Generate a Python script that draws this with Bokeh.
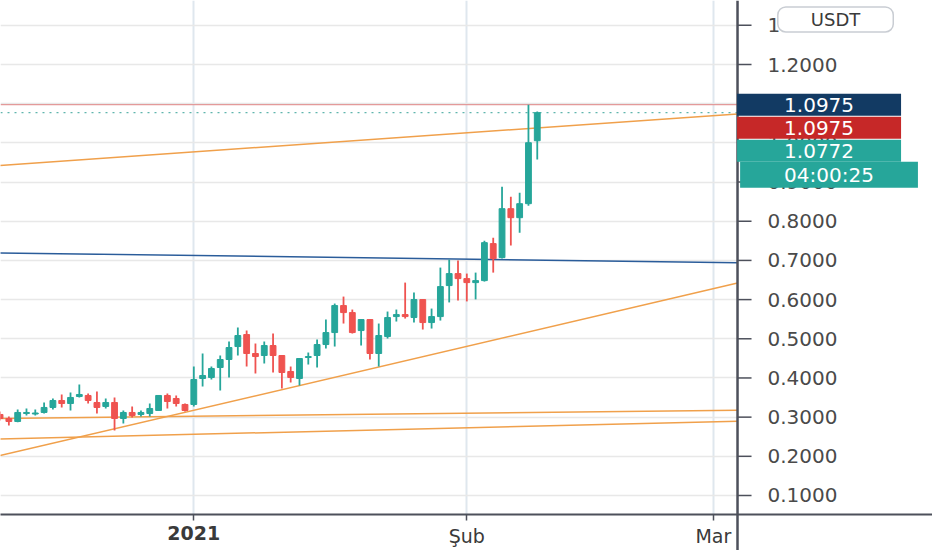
import pandas as pd
from bokeh.plotting import figure
from bokeh.models import (Range1d, FixedTicker, NumeralTickFormatter, Label,
                          ColumnDataSource, BoxAnnotation, Span, DatetimeAxis)
from bokeh.embed import file_html
from bokeh.resources import INLINE

# ---------------- data ----------------
first_day = "2020-12-10"
opens = [0.3068, 0.2966, 0.2889, 0.3093, 0.3080, 0.3119, 0.3247, 0.3425, 0.3348, 0.3527,
         0.3553, 0.3374, 0.3272, 0.3374, 0.2966, 0.3119, 0.3068, 0.3093, 0.3170, 0.3553,
         0.3476, 0.3323, 0.3323, 0.3986, 0.4012, 0.4267, 0.4471, 0.4802, 0.5108, 0.4624,
         0.4573, 0.4828, 0.4573, 0.4165, 0.3986, 0.4522, 0.4573, 0.4853, 0.5159, 0.5848,
         0.5669, 0.5210, 0.5491, 0.4624, 0.5057, 0.5567, 0.5618, 0.5542, 0.6001, 0.5414,
         0.5567, 0.6358, 0.6664, 0.6536, 0.6434, 0.6485, 0.7429, 0.7072, 0.8321, 0.8091,
         0.8448, 1.0055]
highs = [0.3144, 0.3017, 0.3195, 0.3221, 0.3195, 0.3374, 0.3476, 0.3578, 0.3629, 0.3833,
         0.3604, 0.3655, 0.3476, 0.3502, 0.3170, 0.3272, 0.3170, 0.3348, 0.3560, 0.3604,
         0.3553, 0.3348, 0.4293, 0.4624, 0.4293, 0.4573, 0.4930, 0.5287, 0.5210, 0.4879,
         0.4930, 0.5134, 0.4580, 0.4292, 0.4500, 0.4649, 0.4981, 0.5491, 0.5899, 0.6077,
         0.5746, 0.5495, 0.5495, 0.5389, 0.5695, 0.5746, 0.6434, 0.6179, 0.6005, 0.5771,
         0.6817, 0.7021, 0.6995, 0.6664, 0.6689, 0.7505, 0.7581, 0.8882, 0.8627, 0.8729,
         1.0975, 1.0800]
lows = [0.2915, 0.2787, 0.2870, 0.3042, 0.3042, 0.3093, 0.3195, 0.3247, 0.3170, 0.3502,
        0.3348, 0.3093, 0.3221, 0.2660, 0.2838, 0.2991, 0.3017, 0.3017, 0.3160, 0.3221,
        0.3272, 0.3144, 0.3272, 0.3782, 0.3961, 0.3680, 0.4012, 0.4573, 0.4292, 0.4114,
        0.4369, 0.4139, 0.3731, 0.3884, 0.3808, 0.4343, 0.4267, 0.4751, 0.4802, 0.5389,
        0.5134, 0.4828, 0.4471, 0.4292, 0.5006, 0.5440, 0.5516, 0.5414, 0.5236, 0.5261,
        0.5465, 0.5928, 0.5980, 0.5954, 0.6005, 0.6460, 0.6689, 0.7046, 0.7378, 0.7709,
        0.8397, 0.9575]
closes = [0.2966, 0.2889, 0.3119, 0.3119, 0.3106, 0.3247, 0.3425, 0.3348, 0.3502, 0.3578,
          0.3425, 0.3247, 0.3374, 0.2966, 0.3119, 0.3042, 0.3119, 0.3221, 0.3553, 0.3399,
          0.3348, 0.3170, 0.3961, 0.4063, 0.4242, 0.4471, 0.4777, 0.5083, 0.4624, 0.4547,
          0.4828, 0.4573, 0.4139, 0.4012, 0.4496, 0.4547, 0.4853, 0.5159, 0.5848, 0.5669,
          0.5159, 0.5491, 0.4624, 0.5083, 0.5542, 0.5618, 0.5567, 0.6001, 0.5414, 0.5567,
          0.6332, 0.6664, 0.6536, 0.6434, 0.6485, 0.7454, 0.7046, 0.8321, 0.8091, 0.8448,
          1.0004, 1.0772]

y_ticks = [0.1, 0.2, 0.3, 0.4, 0.5, 0.6, 0.7, 0.8, 0.9, 1.0, 1.1, 1.2, 1.3]
x_tick_dates = ["2021-01-01", "2021-02-01", "2021-03-01"]
x_tick_labels = ["2021", "Şub", "Mar"]

high_price = 1.0975
alert_price = 1.0975
last_price = 1.0772
countdown = "04:00:25"
currency = "USDT"

trend_start = ["2020-12-10"] * 5
trend_start_val = [0.9424, 0.7192, 0.2019, 0.2966, 0.2442]
trend_end_val = [1.0740, 0.6939, 0.6421, 0.3177, 0.2894]   # values at the price scale

# ---------------- styles / layout ----------------
UP = "#26a69a"
DOWN = "#ef5350"
ORANGE = "#f0a04b"
BLUE = "#2a5c9a"
trend_colors = [ORANGE, BLUE, ORANGE, ORANGE, ORANGE]
AXIS = "#4d505b"
LABEL = "#4a4a4a"
FONT = "DejaVu Sans"

DAY_MS = 86400000.0
jan1 = pd.Timestamp(x_tick_dates[0])
jan1_ms = jan1.value / 1e6
PX_DAYS = 1 / 8.806                     # days per pixel
x_lo = jan1_ms - 21.95 * DAY_MS          # left edge of the frame
x_hi = jan1_ms + 83.88 * DAY_MS          # right edge (includes price scale area)
scale_ms = jan1_ms + 61.74 * DAY_MS      # position of the price scale line


def px(n):
    return n * PX_DAYS * DAY_MS


dates = pd.date_range(first_day, periods=len(opens), freq="D")
colors = [UP if c >= o else DOWN for o, c in zip(opens, closes)]
src = ColumnDataSource(dict(
    x=dates, o=opens, h=highs, l=lows, c=closes,
    top=[max(o, c) for o, c in zip(opens, closes)],
    bot=[min(o, c) for o, c in zip(opens, closes)],
    color=colors))

p = figure(x_axis_type="datetime", y_axis_location="right",
           x_range=Range1d(x_lo, x_hi), y_range=Range1d(0.0515, 1.3634),
           frame_width=932, frame_height=514,
           min_border_left=0, min_border_top=0, min_border_right=0,
           min_border_bottom=36,
           output_backend="svg", toolbar_location=None,
           background_fill_color="white", border_fill_color="white")
p.outline_line_color = None

# grids
p.ygrid.grid_line_color = "#e8e8e8"
p.ygrid.grid_line_width = 1.5
p.xgrid.grid_line_color = "#dfe7ee"
p.xgrid.grid_line_width = 2

# white price-scale area (covers grid lines right of the scale)
p.add_layout(BoxAnnotation(left=scale_ms, fill_color="white", fill_alpha=1.0,
                           line_color=None, level="underlay"))

# trend lines
tsrc = ColumnDataSource(dict(
    x0=pd.to_datetime(trend_start), x1=[scale_ms] * len(trend_start_val),
    y0=trend_start_val, y1=trend_end_val, color=trend_colors))
p.segment(x0="x0", y0="y0", x1="x1", y1="y1", color="color", line_width=1.5, source=tsrc)

# high line and last price dotted line
p.segment(x0=[x_lo], y0=[high_price], x1=[scale_ms], y1=[high_price],
          line_color="#e39a9a", line_width=1.2)
p.segment(x0=[x_lo], y0=[last_price], x1=[scale_ms], y1=[last_price],
          line_color="#5fb5ad", line_width=1.3, line_dash="2 5")

# candles
p.segment(x0="x", y0="l", x1="x", y1="h", color="color", line_width=1.8, source=src)
p.vbar(x="x", width=0.66 * DAY_MS, top="top", bottom="bot",
       fill_color="color", line_color="color", line_width=1, source=src)

# price scale line and ticks
p.add_layout(Span(location=scale_ms, dimension="height", line_color=AXIS, line_width=2.5))
p.segment(x0=[scale_ms] * len(y_ticks), x1=[scale_ms + px(14)] * len(y_ticks),
          y0=y_ticks, y1=y_ticks, line_color=AXIS, line_width=1.5)

# y axis labels (right axis, labels pulled back into the price scale area)
ya = p.yaxis[0]
ya.ticker = FixedTicker(ticks=y_ticks)
ya.formatter = NumeralTickFormatter(format="0.0000")
ya.axis_line_color = None
ya.major_tick_line_color = None
ya.major_tick_out = 0
ya.major_tick_in = 0
ya.minor_tick_line_color = None
ya.major_label_standoff = -165
ya.major_label_text_font = FONT
ya.major_label_text_font_size = "20px"
ya.major_label_text_color = LABEL

# x axis (bottom); the minor tick continues the price scale line downwards
tick_ms = [pd.Timestamp(d).value / 1e6 for d in x_tick_dates]
xa = p.xaxis[0]
xa.ticker = FixedTicker(ticks=tick_ms, minor_ticks=[scale_ms])
xa.major_label_overrides = {tick_ms[0]: " ", tick_ms[1]: x_tick_labels[1],
                            tick_ms[2]: x_tick_labels[2]}
xa.axis_line_color = AXIS
xa.axis_line_width = 2
xa.major_tick_line_color = AXIS
xa.major_tick_line_width = 1.5
xa.major_tick_out = 6
xa.major_tick_in = 0
xa.minor_tick_line_color = AXIS
xa.minor_tick_line_width = 2.5
xa.minor_tick_out = 36
xa.minor_tick_in = 0
xa.major_label_standoff = -26
xa.major_label_text_font = FONT
xa.major_label_text_font_size = "19px"
xa.major_label_text_color = "#3a3a3a"

# second bottom axis carrying the bold year label on the same row
xa2 = DatetimeAxis(ticker=FixedTicker(ticks=[tick_ms[0]]),
                   major_label_overrides={tick_ms[0]: x_tick_labels[0]})
xa2.axis_line_color = None
xa2.major_tick_line_color = None
xa2.minor_tick_line_color = None
xa2.major_tick_out = 0
xa2.major_tick_in = 0
xa2.major_label_standoff = -24
xa2.major_label_text_font = FONT
xa2.major_label_text_font_size = "19px"
xa2.major_label_text_font_style = "bold"
xa2.major_label_text_color = "#3a3a3a"
p.add_layout(xa2, "below")

# price scale labels
step = 0.0587
box_x = jan1_ms + 71.0 * DAY_MS
boxes = [(f"{high_price:.4f}", high_price, "#123a63"),
         (f"{alert_price:.4f}", high_price - step, "#c62828"),
         (f"{last_price:.4f}", high_price - 2 * step, UP)]
for txt, yv, bg in boxes:
    p.add_layout(Label(x=box_x, y=yv, text=txt, text_align="center", text_baseline="middle",
                       text_font=FONT, text_font_size="20px", text_color="white",
                       background_fill_color=bg, padding=(47, 4)))
p.add_layout(Label(x=jan1_ms + 72.13 * DAY_MS, y=high_price - 3 * step - 0.003, text=countdown,
                   text_align="center", text_baseline="middle",
                   text_font=FONT, text_font_size="20px", text_color="white",
                   background_fill_color=UP, padding=(44, 1)))
p.add_layout(Label(x=jan1_ms + 72.87 * DAY_MS, y=1.315, text=currency,
                   text_align="center", text_baseline="middle",
                   text_font=FONT, text_font_size="18px", text_color="#3a3a3a",
                   background_fill_color="white", border_line_color="#c9cdd3",
                   border_line_width=1.5, border_radius=8, padding=(33, 2)))

open("out.html", "w").write(file_html(p, INLINE))
